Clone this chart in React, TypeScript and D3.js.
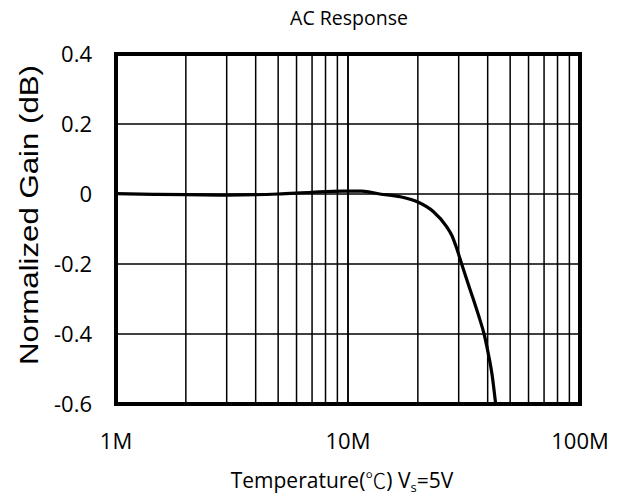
import React from "react";
import * as d3 from "d3";

const freqMHz = [1, 1.5, 2, 3, 5, 7, 9.5, 11.5, 13.7, 16.8, 20, 23.3, 26.6, 28.1, 29.4, 30.9, 32.7, 34.7, 36.9, 38.6, 40.1, 41.8, 43.3];
const gainDb = [0.001, -0.001, -0.002, -0.003, 0, 0.005, 0.008, 0.008, 0.0, -0.008, -0.023, -0.05, -0.093, -0.12, -0.155, -0.2, -0.25, -0.301, -0.356, -0.4, -0.451, -0.517, -0.6];
const yTicks = [0.4, 0.2, 0, -0.2, -0.4, -0.6];
const xTickVals = [1, 10, 100];
const xTickLabels = ["1M", "10M", "100M"];
const titleText = "AC Response";
const yTitle = "Normalized Gain (dB)";

const W = 624;
const H = 498;
const L = 116, R = 580, T = 54, B = 404;

export default function App() {
  const x = d3.scaleLog().domain([1, 100]).range([L, R]);
  const y = d3.scaleLinear().domain([-0.6, 0.4]).range([B, T]);

  const minor: number[] = [];
  [1, 10].forEach((d) => {
    for (let k = 1; k <= 10; k++) minor.push(d * k);
  });

  const pts: [number, number][] = freqMHz.map((f, i) => [x(f), y(gainDb[i])]);
  const line = d3.line().curve(d3.curveMonotoneX)(pts) || "";

  const sans = "'Open Sans', sans-serif";

  return (
    <svg width={W} height={H} style={{ position: "absolute", left: 0, top: 0, background: "#fff" }}>
      <rect x={0} y={0} width={W} height={H} fill="#fff" />
      <text x={349} y={25} textAnchor="middle" fontFamily={sans} fontSize={19.5} fill="#000">
        {titleText}
      </text>
      <defs>
        <clipPath id="clip">
          <rect x={L} y={T} width={R - L} height={B - T} />
        </clipPath>
      </defs>
      {minor.map((v, i) => (
        <line key={"v" + i} x1={x(v)} x2={x(v)} y1={T} y2={B} stroke="#000" strokeWidth={1.5} />
      ))}
      {yTicks.map((v, i) => (
        <line key={"h" + i} x1={L} x2={R} y1={y(v)} y2={y(v)} stroke="#000" strokeWidth={1.5} />
      ))}
      <path d={line} fill="none" stroke="#000" strokeWidth={3.2} clipPath="url(#clip)" strokeLinecap="round" />
      <rect x={L} y={T} width={R - L} height={B - T} fill="none" stroke="#000" strokeWidth={4} />
      {yTicks.map((v, i) => (
        <text key={"yt" + i} x={92} y={y(v) + 7.5} textAnchor="end" fontFamily={sans} fontSize={22} fill="#000">
          {v === 0 ? "0" : d3.format(".1f")(v).replace("−", "-")}
        </text>
      ))}
      {xTickVals.map((v, i) => (
        <text key={"xt" + i} x={x(v)} y={449} textAnchor="middle" fontFamily={sans} fontSize={22} fill="#000">
          {xTickLabels[i]}
        </text>
      ))}
      <text
        transform={`translate(38,${(T + B) / 2 - 14}) rotate(-90)`}
        textAnchor="middle"
        fontFamily="'Liberation Sans', Arial, sans-serif"
        fontSize={25}
        textLength={300}
        lengthAdjust="spacingAndGlyphs"
        fill="#000"
      >
        {yTitle}
      </text>
      <text x={342} y={488} textAnchor="middle" fontFamily={sans} fontSize={21} fill="#000">
        Temperature(<tspan fontFamily="'Noto Sans CJK SC', sans-serif" fontWeight={300}>℃</tspan>) V<tspan fontSize={13} dy={4}>s</tspan><tspan dy={-4}>=5V</tspan>
      </text>
    </svg>
  );
}
